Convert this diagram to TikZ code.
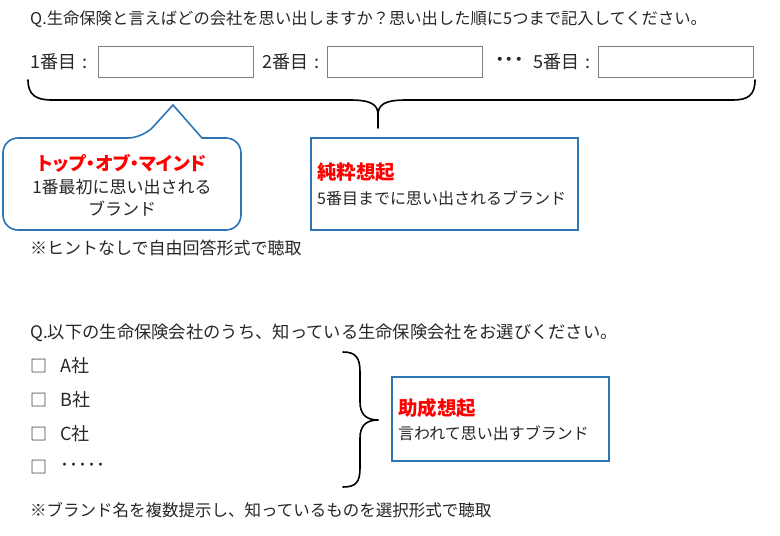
\documentclass[tikz,border=0pt]{standalone}
\usepackage{fontspec}
\setmainfont{Noto Sans CJK JP}
\usetikzlibrary{positioning}
\definecolor{boxblue}{HTML}{2E75B6}
\definecolor{hired}{HTML}{FF0000}
\definecolor{txtgray}{HTML}{262626}
\definecolor{ingray}{HTML}{7F7F7F}
\def\fs#1{\fontsize{#1}{20}\selectfont} % font size shortcut
\tikzset{
  txt/.style={anchor=west, inner sep=0pt, text=txtgray, font=\fs{16.5}},
  big/.style={txt, font=\fs{18}},
  reds/.style={txt, text=hired, font=\fs{19.5}\bfseries},
  inbox/.style={draw=ingray, line width=0.8pt, minimum width=155pt, minimum height=31pt, inner sep=0pt},
  bluebox/.style={draw=boxblue, line width=1.6pt},
  brace/.style={draw=black, line width=1.6pt, line cap=round}
}
\begin{document}
\begin{tikzpicture}[x=1pt, y=-1pt]
\useasboundingbox (0,0) rectangle (780,536);

% --- free recall question ---
\node[txt, font=\fs{16.3}] (q1) at (30,19) {Q.生命保険と言えばどの会社を思い出しますか？思い出した順に5つまで記入してください。};
\node[inbox] (ans1) at (175.5,61.5) {};
\node[inbox] (ans2) at (405,61.5) {};
\node[inbox] (ans5) at (676,61.5) {};
\node[big] (lab1) at (30,61.5) {1番目\hspace{6pt}:};
\node[big] (lab2) at (262,61.5) {2番目\hspace{6pt}:};
\node[big] (lab5) at (533,61.5) {5番目\hspace{6pt}:};
\node[big, font=\fs{19}\bfseries] (dots1) at (495,61.5) {･･･};

% brace under the answers
\draw[brace] (28,80) .. controls (28,95) and (36,100) .. (52,100) -- (350,100)
  .. controls (372,100) and (378,105) .. (378,115) -- (378,128);
\draw[brace] (378,115) .. controls (378,105) and (384,100) .. (406,100) -- (733,100)
  .. controls (748,100) and (755,95) .. (755,80);

% callout: top of mind
\draw[bluebox] (143,138) -- (173,105) -- (202,138) [rounded corners=15pt] -- (241,138)
  -- (241,230) -- (3,230) -- (3,138) -- cycle;
\node[reds, anchor=center, font=\fs{18.5}\bfseries\addfontfeatures{RawFeature=+palt}] (tom) at (122,163) {トップ・オブ・マインド};
\node[txt, anchor=center, font=\fs{17}] (tom1) at (122,187) {1番最初に思い出される};
\node[txt, anchor=center, font=\fs{17}] (tom2) at (122,209) {ブランド};

% box: unaided recall
\node[bluebox, minimum width=267pt, minimum height=92pt] (pure) at (444.5,184) {};
\node[reds] (pure1) at (317,172) {純粋想起};
\node[txt, font=\fs{16}] (pure2) at (317,198) {5番目までに思い出されるブランド};

\node[txt, font=\fs{17}] (note1) at (30,248) {※ヒントなしで自由回答形式で聴取};

% --- aided recall question ---
\node[txt, font=\fs{17.3}] (q2) at (30,333) {Q.以下の生命保険会社のうち、知っている生命保険会社をお選びください。};
\foreach \lbl/\y [count=\i] in {A社/366, B社/400, C社/434, ･････/467} {
  \node[txt, font=\fs{17}] (chk\i) at (30,\y) {□};
  \node[big] (opt\i) at (60,\y) {\lbl};
}

% brace right of the options
\draw[brace] (343,352) .. controls (356,352) and (360,358) .. (360,372) -- (360,402)
  .. controls (360,414) and (366,420) .. (378,420);
\draw[brace] (378,420) .. controls (366,420) and (360,426) .. (360,438) -- (360,468)
  .. controls (360,482) and (356,487) .. (343,487);

% box: aided recall
\node[bluebox, minimum width=217pt, minimum height=84pt] (aided) at (500.5,419) {};
\node[reds] (aided1) at (398,408) {助成想起};
\node[txt, font=\fs{16}] (aided2) at (398,433) {言われて思い出すブランド};

\node[txt] (note2) at (30,510) {※ブランド名を複数提示し、知っているものを選択形式で聴取};
\end{tikzpicture}
\end{document}
